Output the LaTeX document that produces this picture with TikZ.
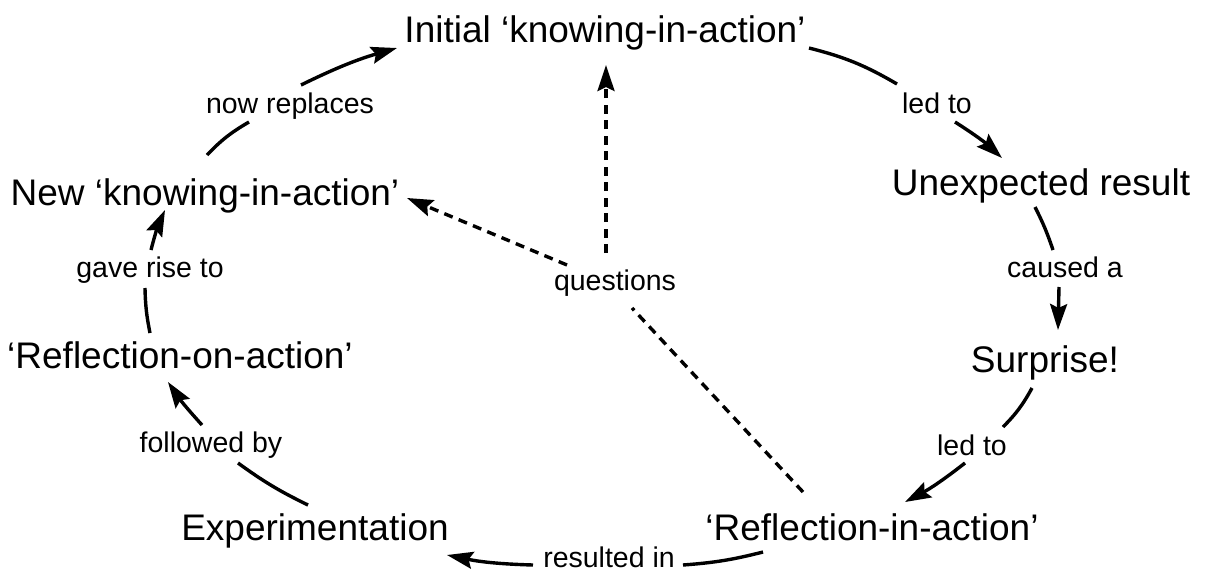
\documentclass[tikz,border=0pt]{standalone}
\usepackage{fontspec}
\setmainfont{Liberation Sans}
\usetikzlibrary{arrows.meta}
\tikzset{
  x=1pt, y=1pt,
  concept/.style={inner sep=0pt, anchor=base, font=\fontsize{37}{44}\selectfont},
  linklabel/.style={inner sep=0pt, anchor=base, font=\fontsize{28.5}{34}\selectfont},
  link/.style={line width=3.4pt, draw=black},
  linkarrow/.style={link, -{Stealth[length=26pt,width=17pt,inset=4pt]}},
  qlink/.style={line width=3.4pt, dash pattern=on 9pt off 6.5pt},
  qarrow/.style={qlink, -{Stealth[length=26pt,width=17pt,inset=4pt]}},
}
\begin{document}
\begin{tikzpicture}
\useasboundingbox (0,0) rectangle (1205,-576);
% concepts
\node[concept] (init)  at (605,-42)  {Initial ‘knowing-in-action’};
\node[concept] (unexp) at (1041,-195) {Unexpected result};
\node[concept] (surp)  at (1045,-372) {Surprise!};
\node[concept] (refin) at (872,-540) {‘Reflection-in-action’};
\node[concept] (exper) at (315,-540) {Experimentation};
\node[concept] (refon) at (180,-368) {‘Reflection-on-action’};
\node[concept] (new)   at (205,-205) {New ‘knowing-in-action’};
% link labels
\node[linklabel] (nr)     at (290,-113) {now replaces};
\node[linklabel] (led1)   at (937,-113) {led to};
\node[linklabel] (caused) at (1065,-277) {caused a};
\node[linklabel] (led2)   at (972,-455) {led to};
\node[linklabel] (res)    at (609,-567) {resulted in};
\node[linklabel] (fol)    at (211,-452) {followed by};
\node[linklabel] (gave)   at (150,-277) {gave rise to};
\node[linklabel] (q)      at (615,-290) {questions};
% cycle connectors
\draw[link] ([shift={(2,50)}]new.base) to[bend left=8] ([shift={(-41,-9)}]nr.base);
\draw[linkarrow] ([shift={(11,28)}]nr.base) to[bend left=5] ([shift={(-208,-6)}]init.base);
\draw[link] ([shift={(204,-6)}]init.base) to[bend left=8] ([shift={(-40,29)}]led1.base);
\draw[linkarrow] ([shift={(18,-9)}]led1.base) to[bend left=5] ([shift={(-39,37)}]unexp.base);
\draw[link] ([shift={(-6,-12)}]unexp.base) to[bend left=4] ([shift={(-12,27)}]caused.base);
\draw[linkarrow] ([shift={(-6,-10)}]caused.base) to ([shift={(13,42)}]surp.base);
\draw[link] ([shift={(-13,-16)}]surp.base) to[bend left=8] ([shift={(31,28)}]led2.base);
\draw[linkarrow] ([shift={(-7,-8)}]led2.base) to[bend left=5] ([shift={(33,38)}]refin.base);
\draw[link] ([shift={(-109,-12)}]refin.base) to[bend left=5] ([shift={(74,2)}]res.base);
\draw[linkarrow] ([shift={(-76,2)}]res.base) to[bend left=5] ([shift={(132,-15)}]exper.base);
\draw[link] ([shift={(-7,35)}]exper.base) to[bend left=5] ([shift={(27,-11)}]fol.base);
\draw[linkarrow] ([shift={(-9,27)}]fol.base) to[bend left=4] ([shift={(-12,-14)}]refon.base);
\draw[link] ([shift={(-30,35)}]refon.base) to[bend left=5] ([shift={(-5,-11)}]gave.base);
\draw[linkarrow] ([shift={(1,27)}]gave.base) to[bend left=5] ([shift={(-40,-5)}]new.base);
% question connectors
\draw[qarrow] ([shift={(-9,37)}]q.base) -- ([shift={(1,-23)}]init.base);
\draw[qarrow] ([shift={(-48,25)}]q.base) -- ([shift={(202,7)}]new.base);
\draw[qlink] ([shift={(-69,48)}]refin.base) -- ([shift={(17,-18)}]q.base);
\end{tikzpicture}
\end{document}
